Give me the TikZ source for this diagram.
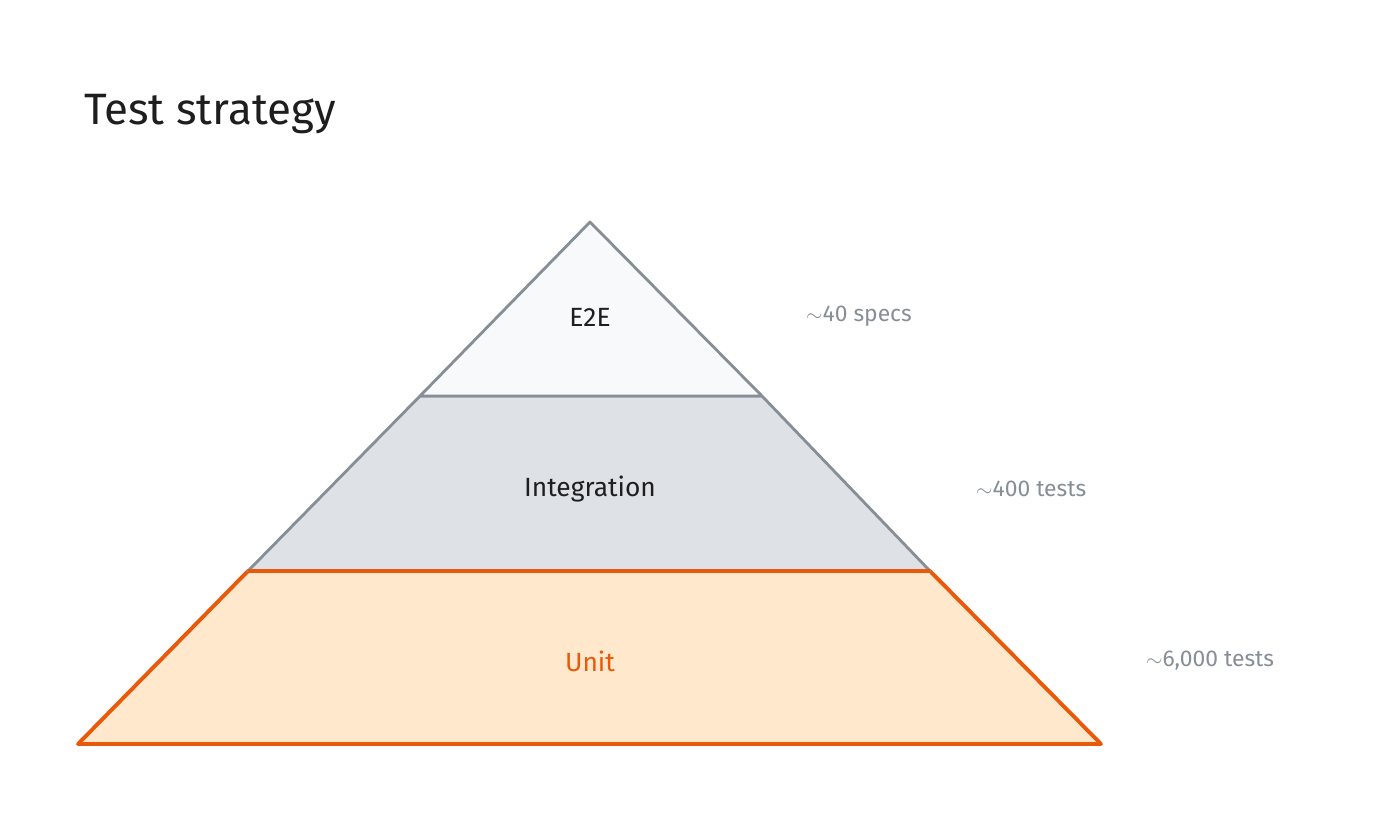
\documentclass[tikz,border=0pt]{standalone}
\usepackage{fontspec}
\setmainfont{Fira Sans}
\usetikzlibrary{positioning}
\definecolor{edge}{HTML}{868E96}
\definecolor{topfill}{HTML}{F8F9FA}
\definecolor{midfill}{HTML}{DEE2E6}
\definecolor{unitfill}{HTML}{FFE8CC}
\definecolor{unitedge}{HTML}{E8590C}
\definecolor{ink}{HTML}{1E1E1E}
\begin{document}
\begin{tikzpicture}[
        x=0.02cm, y=-0.02cm,
        layer/.style={draw=edge, line width=1.6pt, line join=round},
        tier/.style={font=\fontsize{15}{18}\selectfont, text=ink},
        count/.style={font=\fontsize{13}{16}\selectfont, text=edge, anchor=west}
    ]
    \useasboundingbox (0,0) rectangle (1400,822);

    % Layers
    \filldraw[layer, fill=unitfill, draw=unitedge, line width=2.2pt]
        (248,571) -- (930,571) -- (1101,744) -- (78,744) -- cycle;
    \filldraw[layer, fill=midfill] (420,396) -- (762,396) -- (930,571) -- (248,571) -- cycle;
    \draw[layer, draw=unitedge, line width=2.2pt] (248,571) -- (930,571);
    \filldraw[layer, fill=topfill] (590,222) -- (762,396) -- (420,396) -- cycle;

    % Titles
    \node[anchor=west, font=\fontsize{25}{30}\selectfont, text=ink] (title) at (78,114) {Test strategy};
    \node[tier] (e2e) at (590,317) {E2E};
    \node[tier] (integration) at (590,489) {Integration};
    \node[tier, text=unitedge] (unit) at (590,661) {Unit};

    % Counts
    \node[count] (specs) at (800,316) {$\sim$40 specs};
    \node[count] (itests) at (970,489) {$\sim$400 tests};
    \node[count] (utests) at (1140,661) {$\sim$6,000 tests};
\end{tikzpicture}
\end{document}
